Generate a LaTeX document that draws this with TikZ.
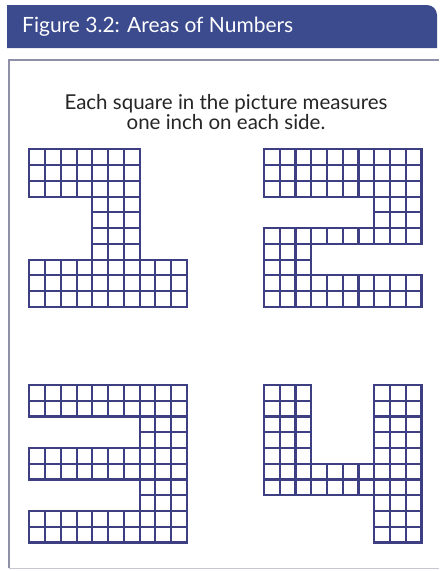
\documentclass[tikz,border=0pt]{standalone}
\usepackage{fontspec}
\setmainfont{Lato}
\usepackage{xcolor}
\usepackage{tikz}
\definecolor{figNavy}{HTML}{3B4B8E}
\definecolor{gridNavy}{HTML}{3D3F82}
\definecolor{frameGray}{HTML}{8E90A8}
\definecolor{textGray}{HTML}{262626}
\tikzset{
  cell/.style={draw=gridNavy, line width=2.1pt, fill=white},
  titletext/.style={anchor=west, text=white, inner sep=0pt, font=\fontsize{21}{23}\selectfont},
  captiontext/.style={align=center, text=textGray, inner sep=0pt, font=\fontsize{20.5}{20.5}\selectfont}
}
\newcommand{\cs}{15.75}
% origin x, origin y, first col, last col, first row, last row
\newcommand{\cellblock}[6]{%
  \foreach \c in {#3,...,#4}{\foreach \r in {#5,...,#6}{%
    \draw[cell] ({#1+(\c-1)*\cs},{#2+(\r-1)*\cs}) rectangle ++(\cs,\cs);}}}

\begin{document}
\begin{tikzpicture}[x=1pt, y=-1pt]
\fill[white] (0,0) rectangle (439,571);
\fill[figNavy] (7,48) -- (7,5) -- (427,5) arc[start angle=-90, end angle=0, radius=10] -- (437,48) -- cycle;
\node[titletext] (title) at (22,27) {Figure 3.2: Areas of Numbers};
\draw[frameGray, line width=2pt] (439,60) -- (9,60) -- (9,568);
\draw[frameGray!50, line width=1pt] (9,568) -- (439,568);
\node[captiontext] (caption) at (226,112) {Each square in the picture measures\\one inch on each side.};
% one
\cellblock{29.3}{149.3}{1}{7}{1}{3}
\cellblock{29.3}{149.3}{5}{7}{4}{7}
\cellblock{29.3}{149.3}{1}{10}{8}{10}
% two
\cellblock{264}{149.3}{1}{10}{1}{3}
\cellblock{264}{149.3}{8}{10}{4}{5}
\cellblock{264}{149.3}{1}{10}{6}{6}
\cellblock{264}{149.3}{1}{3}{7}{8}
\cellblock{264}{149.3}{1}{10}{9}{10}
% three
\cellblock{29.3}{385}{1}{10}{1}{2}
\cellblock{29.3}{385}{8}{10}{3}{4}
\cellblock{29.3}{385}{1}{10}{5}{6}
\cellblock{29.3}{385}{8}{10}{7}{8}
\cellblock{29.3}{385}{1}{10}{9}{10}
% four
\cellblock{264}{385}{1}{3}{1}{7}
\cellblock{264}{385}{4}{7}{6}{7}
\cellblock{264}{385}{8}{10}{1}{10}
\end{tikzpicture}
\end{document}
